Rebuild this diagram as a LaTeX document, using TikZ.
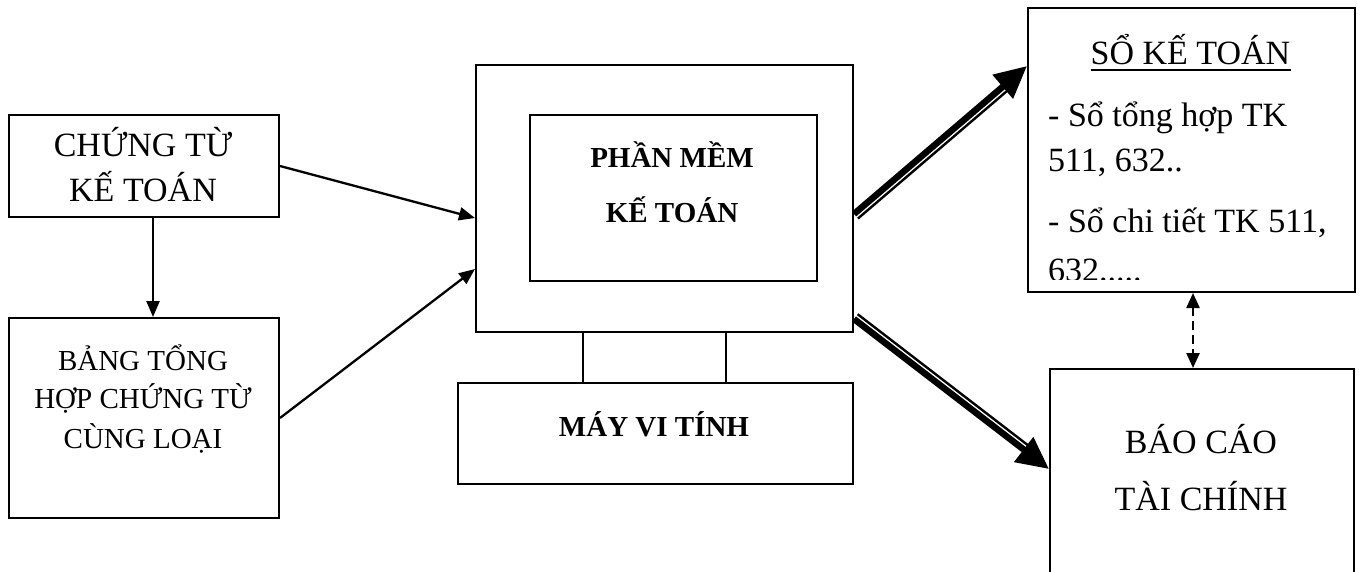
\documentclass[tikz,border=0pt]{standalone}
\usepackage{fontspec}
\setmainfont{Liberation Serif}
\usetikzlibrary{arrows.meta,calc}
\begin{document}
\begin{tikzpicture}[x=1pt,y=-1pt,
  box/.style={draw,line width=2pt,inner sep=0pt,anchor=north west},
  txt/.style={inner sep=0pt,anchor=base},
  big/.style={font=\fontsize{34}{40}\selectfont},
  mid/.style={font=\fontsize{29}{34}\selectfont},
  midb/.style={font=\fontsize{29}{34}\selectfont\bfseries},
  arr/.style={line width=2.3pt,-{Triangle[length=16pt,width=13pt]}},
  thickarr/.style={line width=6.5pt,-{Triangle[length=32pt,width=30pt]}},
  thinline/.style={line width=2.4pt,shorten >=28pt},
  dasharr/.style={line width=2.3pt,dash pattern=on 9pt off 5pt,{Triangle[length=15pt,width=13pt]}-{Triangle[length=15pt,width=13pt]}}
]
\useasboundingbox (0,0) rectangle (1360,572);
\clip (0,0) rectangle (1360,572);

% boxes
\node[box,minimum width=270pt,minimum height=102pt] (A) at (8,114) {};
\node[box,minimum width=270pt,minimum height=200pt] (B) at (8,317) {};
\node[box,minimum width=377pt,minimum height=267pt] (mon) at (475,64) {};
\node[box,minimum width=287pt,minimum height=166pt] (scr) at (529,114) {};
\node[box,minimum width=395pt,minimum height=101pt] (base) at (457,382) {};
\node[box,minimum width=327pt,minimum height=284pt] (sk) at (1027,7) {};
\node[box,minimum width=304pt,minimum height=260pt] (bc) at (1049,368) {};

% stand of the monitor
\coordinate (st1) at (583,0);
\coordinate (st2) at (726,0);
\draw[line width=2pt] (mon.south -| st1) -- (base.north -| st1);
\draw[line width=2pt] (mon.south -| st2) -- (base.north -| st2);

% texts
\node[txt,big] (a1) at (143,157) {CHỨNG TỪ};
\node[txt,big] (a2) at (143,202) {KẾ TOÁN};
\node[txt,mid] (b1) at (143,370) {BẢNG TỔNG};
\node[txt,mid] (b2) at (143,408) {HỢP CHỨNG TỪ};
\node[txt,mid] (b3) at (143,448) {CÙNG LOẠI};
\node[txt,midb] (p1) at (672,168) {PHẦN MỀM};
\node[txt,midb] (p2) at (672,223) {KẾ TOÁN};
\node[txt,midb] (m1) at (654,436) {MÁY VI TÍNH};
\node[txt,big] (s0) at (1190.5,65) {SỔ KẾ TOÁN};
\draw[line width=1.8pt] ([yshift=-5pt]s0.base west) -- ([yshift=-5pt]s0.base east);
\begin{scope}
  \clip (1027,7) rectangle (1354,279);
  \node[txt,big,anchor=base west] (s1t) at (1048,127) {- Sổ tổng hợp TK};
  \node[txt,big,anchor=base west] (s2t) at (1048,172) {511, 632..};
  \node[txt,big,anchor=base west] (s3t) at (1048,233) {- Sổ chi tiết TK 511,};
  \node[txt,big,anchor=base west] (s4t) at (1048,281) {632.....};
\end{scope}
\node[txt,big] (c1) at (1201,453) {BÁO CÁO};
\node[txt,big] (c2) at (1201,510) {TÀI CHÍNH};

% connectors
\draw[arr] (A.east) -- ([yshift=-19.5pt]mon.west);
\draw[arr] (B.east) -- ([yshift=-70.5pt]mon.west);
\draw[arr] ([xshift=9pt]A.south) -- ([xshift=9pt]B.north);
\draw[dasharr] ([xshift=1.5pt]sk.south) -- ([xshift=-9pt]bc.north);

\coordinate (s1) at ([yshift=-15.5pt]mon.east);
\coordinate (e1) at ([yshift=84pt]sk.west);
\draw[thickarr] (s1) -- (e1);
\draw[thinline] ($(s1)!6pt!-90:(e1)$) -- ($(e1)!6pt!90:(s1)$);

\coordinate (s2) at ([yshift=-120.5pt]mon.east);
\coordinate (e2) at ([yshift=30pt]bc.west);
\draw[thickarr] (s2) -- (e2);
\draw[thinline] ($(s2)!6pt!90:(e2)$) -- ($(e2)!6pt!-90:(s2)$);
\end{tikzpicture}
\end{document}
